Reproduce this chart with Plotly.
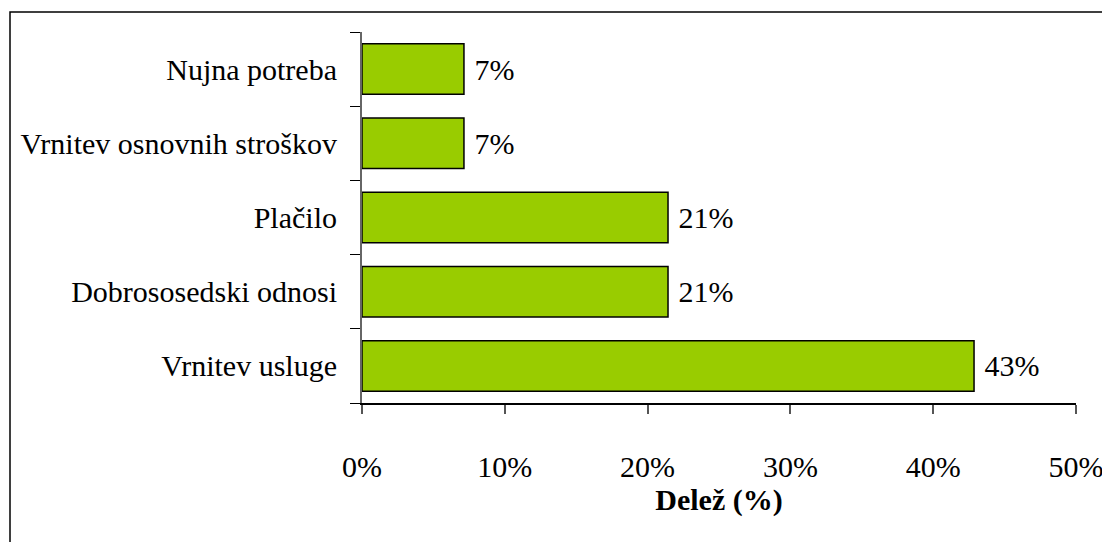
import plotly.graph_objects as go

categories = ["Vrnitev usluge", "Dobrososedski odnosi", "Plačilo", "Vrnitev osnovnih stroškov", "Nujna potreba"]
values = [42.86, 21.43, 21.43, 7.14, 7.14]
labels = ["43%", "21%", "21%", "7%", "7%"]
tick_vals = [0, 10, 20, 30, 40, 50]
tick_text = ["0%", "10%", "20%", "30%", "40%", "50%"]

FONT = "Liberation Serif, Times New Roman, serif"
FS = 30

# page has an 8px body margin: figure is placed at (8, 8) in the window
W_FIG, H_FIG = 1102, 534
L, T, R, B = 354, 24, 34, 139

fig = go.Figure(go.Bar(
    x=values, y=categories, orientation="h",
    marker=dict(color="#99CC00", line=dict(color="black", width=1.5)),
    text=labels, textposition="outside", texttemplate=" %{text}",
    textfont=dict(family=FONT, size=FS, color="black"),
    cliponaxis=False, width=0.68,
))

fig.update_layout(
    width=W_FIG, height=H_FIG,
    margin=dict(l=L, r=R, t=T, b=B),
    paper_bgcolor="white", plot_bgcolor="white",
    font=dict(family=FONT, size=FS, color="black"),
    showlegend=False,
    xaxis=dict(
        range=[0, 50], tickvals=tick_vals, ticktext=tick_text,
        showgrid=False, zeroline=False, showline=True, linecolor="black", linewidth=1.5,
        ticks="outside", ticklen=9, tickcolor="#555555", tickwidth=1.5,
        ticklabelstandoff=27, automargin=False,
        tickfont=dict(family=FONT, size=FS, color="black"),
        title=dict(text="<b>Delež (%)</b>", font=dict(family=FONT, size=FS), standoff=5),
    ),
    yaxis=dict(
        range=[-0.5, 4.5], showgrid=False, zeroline=False, showline=True,
        linecolor="#666666", linewidth=1.5,
        ticks="outside", ticklen=10, tickcolor="black", tickwidth=1.2,
        tickmode="array", tickvals=[-0.5, 0.5, 1.5, 2.5, 3.5, 4.5], ticktext=[""] * 6,
        automargin=False,
    ),
)

fig.update_layout(yaxis2=dict(
    overlaying="y", side="left", range=[-0.5, 4.5], tickmode="array",
    tickvals=list(range(len(categories))), ticktext=categories,
    showgrid=False, zeroline=False, showline=False, ticks="", ticklabelstandoff=24,
    automargin=False,
    tickfont=dict(family=FONT, size=FS, color="black"),
))
fig.add_trace(go.Scatter(x=[None], y=[None], yaxis="y2", showlegend=False, hoverinfo="skip"))

# chart border (window px: left 10, top 12; right/bottom beyond the view)
PW = W_FIG - L - R
PH = H_FIG - T - B
fig.add_shape(type="rect", xref="paper", yref="paper",
              x0=(10 - 8 - L) / PW, x1=(W_FIG + 5 - L) / PW,
              y0=-(H_FIG + 5 - (H_FIG - B)) / PH, y1=1 + (T - (12 - 8)) / PH,
              line=dict(color="black", width=1.5), layer="below")

fig.write_html("out.html")
